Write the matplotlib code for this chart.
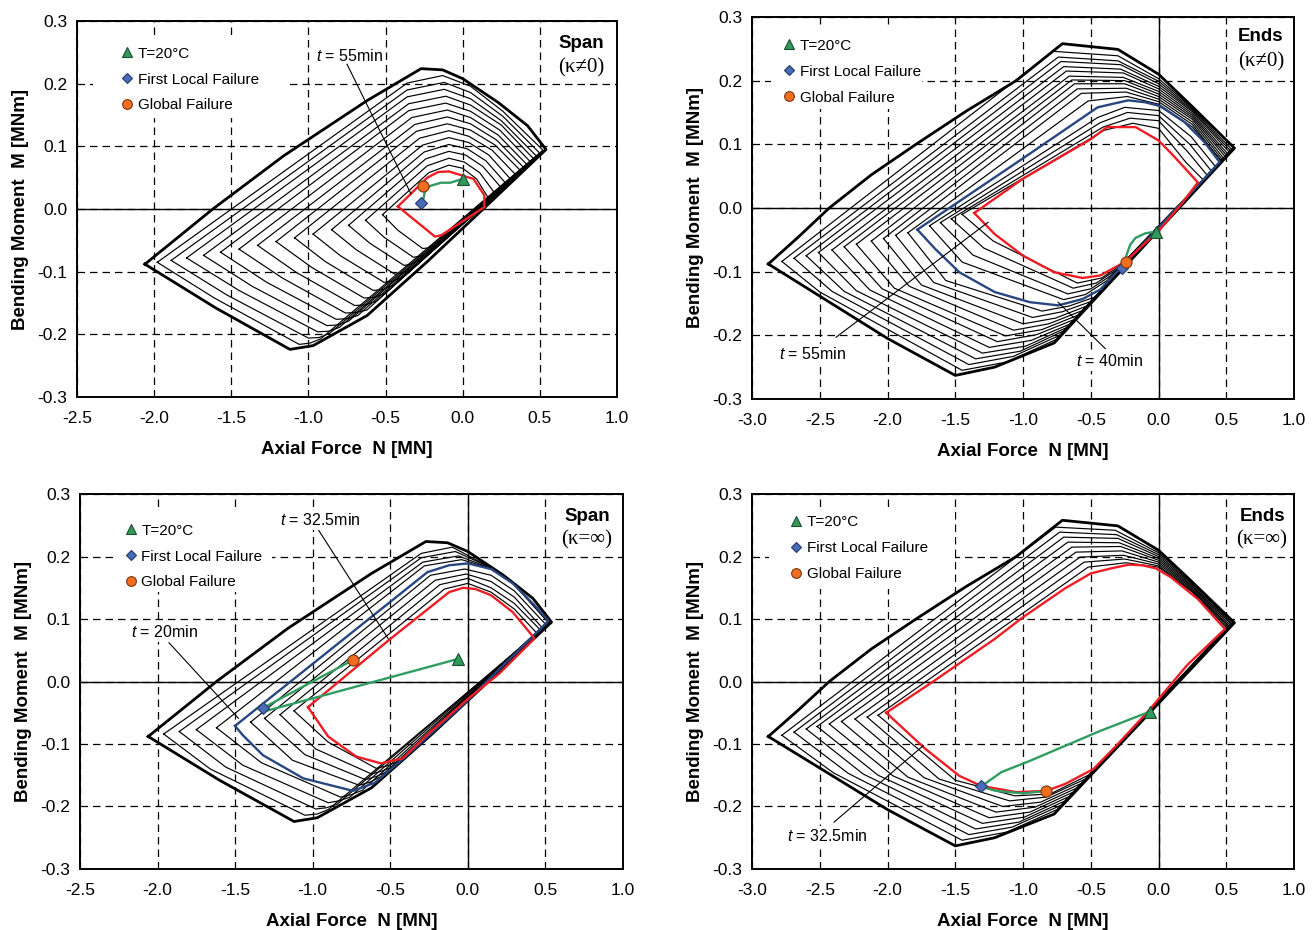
import matplotlib
matplotlib.use("Agg")
import matplotlib.pyplot as plt
from matplotlib.lines import Line2D
from matplotlib.patches import Rectangle
from matplotlib.ticker import MultipleLocator, FuncFormatter
from matplotlib import font_manager

# ---------------- fonts ----------------
names = {f.name for f in font_manager.fontManager.ttflist}
SANS = 'Liberation Sans' if 'Liberation Sans' in names else 'DejaVu Sans'
NARROW = 'Liberation Sans Narrow' if 'Liberation Sans Narrow' in names else SANS
SERIF = 'Liberation Serif' if 'Liberation Serif' in names else 'DejaVu Serif'
plt.rcParams['font.family'] = [SANS, 'DejaVu Sans']
plt.rcParams['axes.unicode_minus'] = False
plt.rcParams['mathtext.fontset'] = 'custom'
plt.rcParams['mathtext.it'] = SANS + ':italic'
plt.rcParams['mathtext.rm'] = SANS

# ---------------- data (N in MN, M in MNm) ----------------
# T = 20 C interaction curves (thick outline)
span_outer_N = [-2.06, -1.62, -1.16, -0.62, -0.27, -0.13, 0.00, 0.23, 0.42, 0.54, 0.15, -0.23, -0.62, -0.97, -1.12, -1.60, -2.06]
span_outer_M = [-0.088, 0.000, 0.085, 0.173, 0.224, 0.222, 0.208, 0.170, 0.133, 0.095, 0.004, -0.084, -0.170, -0.218, -0.224, -0.158, -0.088]
ends_outer_N = [-2.88, -2.66, -2.43, -2.12, -1.79, -1.42, -1.05, -0.71, -0.30, 0.00, 0.24, 0.56, 0.00, -0.77, -1.21, -1.50, -2.00, -2.88]
ends_outer_M = [-0.088, -0.046, 0.000, 0.052, 0.100, 0.152, 0.200, 0.258, 0.249, 0.210, 0.161, 0.094, -0.035, -0.212, -0.250, -0.263, -0.205, -0.088]

# intermediate time steps: one corner point per curve (outer -> inner)
# going round each curve: tip, ul, top, tr1, tr2, r, br, b2, bot, ll
# (a) Span, kappa != 0
a_tip_N = [-1.98, -1.89, -1.79, -1.68, -1.57, -1.45, -1.33, -1.21, -1.09, -0.97, -0.85, -0.74, -0.63, -0.52]
a_tip_M = [-0.085, -0.082, -0.078, -0.074, -0.069, -0.064, -0.058, -0.052, -0.046, -0.040, -0.033, -0.026, -0.018, -0.009]
a_ul_N = [-0.36, -0.36, -0.36, -0.35, -0.35, -0.33, -0.31, -0.30, -0.28, -0.26, -0.25, -0.24, -0.23, -0.22]
a_ul_M = [0.201, 0.190, 0.179, 0.168, 0.157, 0.146, 0.135, 0.124, 0.113, 0.102, 0.091, 0.080, 0.069, 0.058]
a_top_N = [-0.13, -0.12, -0.12, -0.11, -0.11, -0.10, -0.10, -0.10, -0.09, -0.09, -0.09, -0.09, -0.09, -0.09]
a_top_M = [0.213, 0.202, 0.191, 0.180, 0.169, 0.158, 0.147, 0.136, 0.125, 0.114, 0.103, 0.092, 0.081, 0.070]
a_tr1_N = [0.05, 0.05, 0.05, 0.05, 0.05, 0.05, 0.05, 0.05, 0.04, 0.04, 0.03, 0.02, 0.01, 0.00]
a_tr1_M = [0.196, 0.186, 0.176, 0.166, 0.156, 0.146, 0.136, 0.126, 0.116, 0.106, 0.096, 0.086, 0.075, 0.065]
a_tr2_N = [0.26, 0.26, 0.25, 0.25, 0.24, 0.23, 0.22, 0.21, 0.19, 0.17, 0.15, 0.13, 0.11, 0.09]
a_tr2_M = [0.156, 0.148, 0.141, 0.134, 0.126, 0.118, 0.110, 0.102, 0.094, 0.086, 0.077, 0.068, 0.058, 0.048]
a_r_N = [0.52, 0.50, 0.48, 0.46, 0.44, 0.42, 0.40, 0.38, 0.35, 0.32, 0.29, 0.26, 0.22, 0.18]
a_r_M = [0.094, 0.089, 0.084, 0.080, 0.075, 0.070, 0.065, 0.060, 0.053, 0.045, 0.038, 0.031, 0.021, 0.012]
a_br_N = [-0.92, -0.86, -0.80, -0.74, -0.68, -0.62, -0.56, -0.50, -0.44, -0.38, -0.32, -0.27, -0.22, -0.18]
a_br_M = [-0.207, -0.198, -0.189, -0.179, -0.170, -0.161, -0.147, -0.134, -0.120, -0.107, -0.092, -0.080, -0.068, -0.056]
a_b2_N = [-0.99, -0.93, -0.87, -0.81, -0.75, -0.69, -0.63, -0.57, -0.51, -0.45, -0.38, -0.33, -0.27, -0.22]
a_b2_M = [-0.214, -0.205, -0.195, -0.185, -0.175, -0.165, -0.153, -0.141, -0.128, -0.115, -0.101, -0.088, -0.075, -0.062]
a_bot_N = [-1.06, -1.00, -0.94, -0.88, -0.82, -0.76, -0.70, -0.64, -0.58, -0.51, -0.44, -0.38, -0.32, -0.26]
a_bot_M = [-0.216, -0.206, -0.196, -0.186, -0.176, -0.166, -0.154, -0.142, -0.130, -0.117, -0.104, -0.090, -0.077, -0.063]
a_ll_N = [-1.61, -1.53, -1.45, -1.36, -1.27, -1.17, -1.08, -0.98, -0.89, -0.79, -0.69, -0.60, -0.51, -0.42]
a_ll_M = [-0.142, -0.137, -0.130, -0.124, -0.117, -0.110, -0.101, -0.093, -0.084, -0.075, -0.065, -0.055, -0.045, -0.034]
a_red_N = [-0.42, -0.23, -0.16, -0.09, 0.07, 0.14, 0.14, -0.14, -0.18, -0.42]
a_red_M = [0.004, 0.050, 0.059, 0.060, 0.048, 0.022, 0.003, -0.042, -0.044, 0.004]
a_path_N = [0.00, -0.08, -0.14, -0.21, -0.245, -0.255, -0.265]
a_path_M = [0.048, 0.042, 0.042, 0.037, 0.029, 0.016, 0.011]
a_pts_N = [0.00, -0.27, -0.255]      # T=20C, first local failure, global failure
a_pts_M = [0.048, 0.010, 0.036]

# (b) Ends, kappa != 0
b_tip_N = [-2.78, -2.69, -2.60, -2.51, -2.41, -2.32, -2.23, -2.12, -2.03, -1.94, -1.85, -1.69, -1.61, -1.53, -1.45]
b_tip_M = [-0.084, -0.079, -0.075, -0.070, -0.066, -0.061, -0.057, -0.052, -0.048, -0.043, -0.039, -0.028, -0.023, -0.017, -0.010]
b_ul_N = [-0.78, -0.74, -0.72, -0.70, -0.68, -0.66, -0.64, -0.62, -0.60, -0.57, -0.52, -0.45, -0.43, -0.41, -0.40]
b_ul_M = [0.246, 0.237, 0.230, 0.222, 0.215, 0.207, 0.201, 0.195, 0.187, 0.180, 0.168, 0.142, 0.134, 0.127, 0.122]
b_top_N = [-0.30, -0.30, -0.28, -0.28, -0.26, -0.26, -0.25, -0.25, -0.24, -0.24, -0.23, -0.25, -0.23, -0.21, -0.19]
b_top_M = [0.239, 0.231, 0.225, 0.218, 0.212, 0.205, 0.200, 0.195, 0.188, 0.182, 0.175, 0.158, 0.150, 0.141, 0.133]
b_tr1_N = [0.00, 0.00, 0.00, 0.00, 0.00, 0.00, 0.00, 0.00, 0.00, 0.00, 0.00, 0.00, 0.00, 0.00, 0.00]
b_tr1_M = [0.203, 0.199, 0.195, 0.191, 0.187, 0.183, 0.179, 0.175, 0.171, 0.167, 0.163, 0.153, 0.145, 0.137, 0.125]
b_tr2_N = [0.25, 0.25, 0.25, 0.25, 0.25, 0.25, 0.25, 0.25, 0.25, 0.25, 0.25, 0.24, 0.23, 0.22, 0.20]
b_tr2_M = [0.157, 0.155, 0.153, 0.151, 0.148, 0.145, 0.142, 0.139, 0.135, 0.131, 0.127, 0.112, 0.100, 0.087, 0.072]
b_r_N = [0.55, 0.54, 0.53, 0.52, 0.51, 0.50, 0.49, 0.48, 0.47, 0.46, 0.46, 0.42, 0.39, 0.36, 0.33]
b_r_M = [0.095, 0.092, 0.090, 0.088, 0.085, 0.083, 0.081, 0.078, 0.076, 0.074, 0.075, 0.065, 0.058, 0.051, 0.044]
b_br_N = [-0.76, -0.73, -0.70, -0.68, -0.65, -0.62, -0.59, -0.56, -0.53, -0.50, -0.47, -0.38, -0.35, -0.31, -0.28]
b_br_M = [-0.207, -0.200, -0.193, -0.188, -0.182, -0.175, -0.168, -0.161, -0.154, -0.147, -0.140, -0.114, -0.106, -0.097, -0.090]
b_b2_N = [-1.12, -1.07, -1.02, -0.98, -0.94, -0.90, -0.86, -0.81, -0.76, -0.71, -0.66, -0.54, -0.50, -0.46, -0.42]
b_b2_M = [-0.242, -0.233, -0.225, -0.217, -0.208, -0.199, -0.191, -0.182, -0.173, -0.163, -0.154, -0.136, -0.127, -0.118, -0.110]
b_bot_N = [-1.45, -1.40, -1.35, -1.30, -1.25, -1.19, -1.13, -1.07, -1.00, -0.93, -0.86, -0.70, -0.67, -0.63, -0.60]
b_bot_M = [-0.255, -0.246, -0.237, -0.228, -0.219, -0.210, -0.201, -0.192, -0.182, -0.172, -0.162, -0.144, -0.135, -0.126, -0.118]
b_ll_N = [-2.50, -2.41, -2.32, -2.23, -2.13, -2.04, -1.95, -1.84, -1.75, -1.66, -1.57, -1.45, -1.37, -1.29, -1.22]
b_ll_M = [-0.132, -0.131, -0.131, -0.130, -0.129, -0.127, -0.126, -0.123, -0.121, -0.117, -0.114, -0.085, -0.074, -0.063, -0.052]
b_blue_N = [-1.78, -1.00, -0.45, -0.225, -0.10, 0.01, 0.19, 0.34, 0.45, 0.00, -0.43, -0.56, -0.74, -0.95, -1.21, -1.47, -1.65, -1.78]
b_blue_M = [-0.034, 0.078, 0.158, 0.169, 0.166, 0.160, 0.135, 0.103, 0.072, -0.031, -0.128, -0.143, -0.153, -0.148, -0.132, -0.101, -0.064, -0.034]
b_red_N = [-1.36, -1.00, -0.50, -0.38, -0.17, 0.00, 0.11, 0.29, 0.16, 0.00, -0.25, -0.43, -0.56, -0.77, -1.00, -1.21, -1.36]
b_red_M = [-0.008, 0.046, 0.108, 0.127, 0.127, 0.106, 0.082, 0.040, 0.004, -0.036, -0.085, -0.106, -0.110, -0.101, -0.075, -0.041, -0.008]
b_path_N = [-0.02, -0.10, -0.17, -0.21, -0.235, -0.25, -0.27]
b_path_M = [-0.037, -0.040, -0.047, -0.058, -0.073, -0.085, -0.095]
b_pts_N = [-0.018, -0.27, -0.243]
b_pts_M = [-0.037, -0.095, -0.085]

# (c) Span, kappa = inf
c_tip_N = [-1.96, -1.86, -1.75, -1.62, -1.40, -1.31, -1.21, -1.12]
c_tip_M = [-0.084, -0.080, -0.077, -0.074, -0.065, -0.059, -0.053, -0.047]
c_ul_N = [-0.30, -0.30, -0.29, -0.28, -0.24, -0.21, -0.18, -0.15]
c_ul_M = [0.205, 0.198, 0.191, 0.185, 0.170, 0.162, 0.155, 0.148]
c_top_N = [-0.10, -0.08, -0.06, -0.04, -0.02, -0.01, 0.00, 0.00]
c_top_M = [0.215, 0.208, 0.201, 0.195, 0.180, 0.172, 0.165, 0.157]
c_tr1_N = [0.15, 0.15, 0.15, 0.15, 0.15, 0.15, 0.15, 0.15]
c_tr1_M = [0.182, 0.182, 0.181, 0.181, 0.170, 0.160, 0.150, 0.143]
c_tr2_N = [0.30, 0.30, 0.30, 0.30, 0.30, 0.30, 0.30, 0.30]
c_tr2_M = [0.156, 0.156, 0.155, 0.155, 0.145, 0.135, 0.125, 0.116]
c_r_N = [0.53, 0.53, 0.52, 0.52, 0.50, 0.48, 0.47, 0.45]
c_r_M = [0.094, 0.095, 0.094, 0.095, 0.092, 0.086, 0.082, 0.076]
c_br_N = [-0.90, -0.84, -0.76, -0.68, -0.56, -0.52, -0.48, -0.45]
c_br_M = [-0.205, -0.196, -0.185, -0.174, -0.152, -0.144, -0.136, -0.128]
c_b2_N = [-0.97, -0.91, -0.83, -0.75, -0.63, -0.59, -0.55, -0.52]
c_b2_M = [-0.212, -0.202, -0.191, -0.181, -0.161, -0.152, -0.143, -0.135]
c_bot_N = [-1.05, -0.98, -0.90, -0.82, -0.70, -0.66, -0.62, -0.59]
c_bot_M = [-0.214, -0.204, -0.194, -0.185, -0.166, -0.157, -0.148, -0.139]
c_ll_N = [-1.66, -1.56, -1.45, -1.33, -1.13, -1.05, -0.98, -0.90]
c_ll_M = [-0.140, -0.137, -0.134, -0.130, -0.126, -0.117, -0.108, -0.097]
c_blue_N = [-1.50, -0.26, -0.12, 0.00, 0.15, 0.29, 0.43, 0.52, 0.00, -0.40, -0.60, -0.74, -1.06, -1.32, -1.45, -1.50]
c_blue_M = [-0.071, 0.175, 0.186, 0.189, 0.180, 0.157, 0.122, 0.097, -0.030, -0.120, -0.162, -0.175, -0.155, -0.118, -0.086, -0.071]
c_red_N = [-1.03, -0.51, -0.12, -0.03, 0.05, 0.15, 0.29, 0.43, 0.20, 0.00, -0.26, -0.42, -0.56, -0.72, -0.90, -1.03]
c_red_M = [-0.041, 0.066, 0.143, 0.150, 0.148, 0.138, 0.111, 0.069, 0.012, -0.028, -0.085, -0.123, -0.131, -0.120, -0.088, -0.041]
c_path_N = [-0.064, -1.00, -1.30, -1.31, -1.00, -0.743]
c_path_M = [0.036, -0.027, -0.047, -0.041, 0.000, 0.034]
c_pts_N = [-0.064, -1.317, -0.743]
c_pts_M = [0.036, -0.042, 0.034]

# (d) Ends, kappa = inf
d_tip_N = [-2.78, -2.69, -2.60, -2.52, -2.43, -2.34, -2.24, -2.15, -2.07]
d_tip_M = [-0.086, -0.081, -0.076, -0.072, -0.068, -0.064, -0.060, -0.057, -0.054]
d_ul_N = [-0.76, -0.73, -0.70, -0.67, -0.64, -0.61, -0.58, -0.55, -0.52]
d_ul_M = [0.247, 0.239, 0.231, 0.223, 0.215, 0.207, 0.199, 0.191, 0.183]
d_top_N = [-0.32, -0.31, -0.30, -0.29, -0.28, -0.27, -0.26, -0.25, -0.24]
d_top_M = [0.242, 0.235, 0.229, 0.222, 0.216, 0.209, 0.202, 0.196, 0.190]
d_tr1_N = [0.00, 0.00, 0.00, 0.00, 0.00, 0.00, 0.00, 0.00, 0.00]
d_tr1_M = [0.206, 0.203, 0.200, 0.197, 0.194, 0.191, 0.188, 0.185, 0.183]
d_tr2_N = [0.25, 0.25, 0.25, 0.25, 0.25, 0.25, 0.25, 0.25, 0.25]
d_tr2_M = [0.158, 0.156, 0.154, 0.152, 0.150, 0.148, 0.146, 0.144, 0.143]
d_r_N = [0.55, 0.55, 0.54, 0.54, 0.53, 0.52, 0.52, 0.51, 0.50]
d_r_M = [0.094, 0.093, 0.092, 0.091, 0.090, 0.089, 0.088, 0.087, 0.086]
d_br_N = [-0.75, -0.72, -0.69, -0.66, -0.63, -0.60, -0.57, -0.54, -0.51]
d_br_M = [-0.205, -0.198, -0.191, -0.184, -0.177, -0.170, -0.163, -0.156, -0.149]
d_b2_N = [-1.12, -1.08, -1.03, -0.99, -0.95, -0.91, -0.87, -0.83, -0.80]
d_b2_M = [-0.241, -0.233, -0.225, -0.217, -0.209, -0.201, -0.193, -0.185, -0.180]
d_bot_N = [-1.45, -1.40, -1.35, -1.30, -1.25, -1.20, -1.15, -1.10, -1.06]
d_bot_M = [-0.254, -0.245, -0.236, -0.227, -0.218, -0.209, -0.200, -0.191, -0.183]
d_ll_N = [-2.40, -2.29, -2.18, -2.07, -1.96, -1.85, -1.73, -1.62, -1.50]
d_ll_M = [-0.146, -0.147, -0.148, -0.150, -0.151, -0.153, -0.154, -0.156, -0.158]
d_red_N = [-2.01, -1.67, -1.21, -1.00, -0.69, -0.50, -0.35, -0.22, -0.12, -0.02, 0.09, 0.29, 0.49, 0.21, -0.07, -0.30, -0.48, -0.69, -0.83, -1.05, -1.31, -1.47, -1.72, -1.88, -2.01]
d_red_M = [-0.050, -0.001, 0.068, 0.103, 0.149, 0.173, 0.181, 0.187, 0.186, 0.181, 0.167, 0.132, 0.084, 0.026, -0.046, -0.100, -0.140, -0.164, -0.175, -0.177, -0.167, -0.151, -0.108, -0.076, -0.050]
d_path_N = [-0.062, -0.43, -0.69, -0.95, -1.16, -1.31, -1.20, -1.00, -0.83]
d_path_M = [-0.048, -0.079, -0.103, -0.127, -0.145, -0.168, -0.175, -0.179, -0.175]
d_pts_N = [-0.062, -1.31, -0.83]
d_pts_M = [-0.048, -0.168, -0.175]

legend_labels = ['T=20°C', 'First Local Failure', 'Global Failure']

RED = '#ee1d25'
BLUE = '#28467f'
GREEN = '#2f9d62'
MARK_FC = ['#2f9a5a', '#4a6cb8', '#f26d1f']
MARK_EC = ['#1b4d2e', '#233a6a', '#7a3510']
MARKERS = ['^', 'D', 'o']
MSIZE = [8.5, 6.5, 8]


def fmt(v, pos):
    if abs(v) < 1e-9:
        v = 0.0
    return f'{v:.1f}'


def setup(ax, xmin, solid_zero_n):
    ax.set_xlim(xmin, 1.0)
    ax.set_ylim(-0.3, 0.3)
    ax.xaxis.set_major_locator(MultipleLocator(0.5))
    ax.yaxis.set_major_locator(MultipleLocator(0.1))
    ax.xaxis.set_major_formatter(FuncFormatter(fmt))
    ax.yaxis.set_major_formatter(FuncFormatter(fmt))
    ax.grid(True, color='black', lw=0.9, linestyle=(0, (6, 4)))
    ax.set_axisbelow(True)
    ax.axhline(0, color='black', lw=1.0, zorder=1)
    if solid_zero_n:
        ax.axvline(0, color='black', lw=1.0, zorder=1)
    ax.tick_params(length=0, labelsize=12.5)
    ax.tick_params(axis='x', pad=10)
    ax.tick_params(axis='y', pad=7)
    for s in ax.spines.values():
        s.set_linewidth(1.4)
    ax.set_xlabel('Axial Force  N [MN]', fontweight='bold', family=NARROW,
                  fontsize=13.5, labelpad=11)
    ax.set_ylabel('Bending Moment  M [MNm]', fontweight='bold', family=NARROW,
                  fontsize=13.5, labelpad=6)


def draw_family(ax, n_cols, m_cols):
    # closed polyline through the corner points of each curve
    for k in range(len(n_cols[0])):
        ns = [col[k] for col in n_cols]
        ms = [col[k] for col in m_cols]
        ax.plot(ns + ns[:1], ms + ms[:1], color='black', lw=0.85,
                solid_joinstyle='round', zorder=3)


def draw_points(ax, pts_N, pts_M):
    for i in range(3):
        ax.plot(pts_N[i], pts_M[i], marker=MARKERS[i], ms=MSIZE[i],
                mfc=MARK_FC[i], mec=MARK_EC[i], mew=0.8, ls='none', zorder=8)


def add_legend(ax, x, y, box):
    # white legend area hides the grid, as in the original chart
    ax.add_patch(Rectangle(box[:2], box[2], box[3], transform=ax.transAxes,
                           facecolor='white', edgecolor='none', zorder=2))
    handles = [Line2D([], [], marker=MARKERS[i], ls='none', ms=MSIZE[i] - 1,
                      mfc=MARK_FC[i], mec=MARK_EC[i], mew=0.8) for i in range(3)]
    ax.legend(handles, legend_labels, loc='upper left', bbox_to_anchor=(x, y),
              frameon=False, handlelength=0.6, handletextpad=0.4,
              labelspacing=0.78, borderaxespad=0, borderpad=0, fontsize=11)


def add_title(ax, word, kappa, x, y1, y2):
    ax.text(x, y1, word, transform=ax.transAxes, ha='center', va='center',
            fontweight='bold', fontsize=13.5)
    ax.text(x, y2, kappa, transform=ax.transAxes, ha='center', va='center',
            family=[SERIF, 'DejaVu Serif'], fontsize=15)


def add_note(ax, text, txy, line_N, line_M):
    ax.text(txy[0], txy[1], text, ha='left', va='center', fontsize=11.5, zorder=9,
            bbox=dict(facecolor='white', edgecolor='none', pad=1.5))
    ax.plot(line_N, line_M, color='black', lw=0.8, zorder=9)


fig = plt.figure(figsize=(13.15, 9.30), dpi=100)
ax_a = fig.add_axes([0.0586, 0.5731, 0.4106, 0.4043])
ax_b = fig.add_axes([0.5719, 0.5710, 0.4122, 0.4108])
ax_c = fig.add_axes([0.0608, 0.0656, 0.4129, 0.4032])
ax_d = fig.add_axes([0.5719, 0.0656, 0.4122, 0.4032])

# ---- (a) Span kappa != 0
setup(ax_a, -2.5, False)
draw_family(ax_a, [a_tip_N, a_ul_N, a_top_N, a_tr1_N, a_tr2_N, a_r_N, a_br_N, a_b2_N, a_bot_N, a_ll_N],
            [a_tip_M, a_ul_M, a_top_M, a_tr1_M, a_tr2_M, a_r_M, a_br_M, a_b2_M, a_bot_M, a_ll_M])
ax_a.plot(span_outer_N, span_outer_M, color='black', lw=2.0, zorder=4)
ax_a.plot(a_red_N, a_red_M, color=RED, lw=1.7, zorder=5)
ax_a.plot(a_path_N, a_path_M, color=GREEN, lw=1.7, zorder=6)
draw_points(ax_a, a_pts_N, a_pts_M)
add_note(ax_a, '$t$ = 55min', (-0.95, 0.244), [-0.75, -0.335], [0.231, 0.024])
add_legend(ax_a, 0.084, 0.932, (0.029, 0.743, 0.36, 0.22))
add_title(ax_a, 'Span', '(κ≠0)', 0.933, 0.939, 0.875)

# ---- (b) Ends kappa != 0
setup(ax_b, -3.0, True)
draw_family(ax_b, [b_tip_N, b_ul_N, b_top_N, b_tr1_N, b_tr2_N, b_r_N, b_br_N, b_b2_N, b_bot_N, b_ll_N],
            [b_tip_M, b_ul_M, b_top_M, b_tr1_M, b_tr2_M, b_r_M, b_br_M, b_b2_M, b_bot_M, b_ll_M])
ax_b.plot(ends_outer_N, ends_outer_M, color='black', lw=2.0, zorder=4)
ax_b.plot(b_blue_N, b_blue_M, color=BLUE, lw=1.7, zorder=5)
ax_b.plot(b_red_N, b_red_M, color=RED, lw=1.7, zorder=5)
ax_b.plot(b_path_N, b_path_M, color=GREEN, lw=1.7, zorder=6)
draw_points(ax_b, b_pts_N, b_pts_M)
add_note(ax_b, '$t$ = 55min', (-2.80, -0.229), [-2.38, -1.258], [-0.203, -0.0225])
add_note(ax_b, '$t$ = 40min', (-0.61, -0.241), [-0.393, -0.742], [-0.221, -0.148])
add_legend(ax_b, 0.060, 0.943, (0.035, 0.759, 0.278, 0.209))
add_title(ax_b, 'Ends', '(κ≠0)', 0.939, 0.948, 0.882)

# ---- (c) Span kappa = inf
setup(ax_c, -2.5, True)
draw_family(ax_c, [c_tip_N, c_ul_N, c_top_N, c_tr1_N, c_tr2_N, c_r_N, c_br_N, c_b2_N, c_bot_N, c_ll_N],
            [c_tip_M, c_ul_M, c_top_M, c_tr1_M, c_tr2_M, c_r_M, c_br_M, c_b2_M, c_bot_M, c_ll_M])
ax_c.plot(span_outer_N, span_outer_M, color='black', lw=2.0, zorder=4)
ax_c.plot(c_blue_N, c_blue_M, color=BLUE, lw=1.7, zorder=5)
ax_c.plot(c_red_N, c_red_M, color=RED, lw=1.7, zorder=5)
ax_c.plot(c_path_N, c_path_M, color=GREEN, lw=1.7, zorder=6)
draw_points(ax_c, c_pts_N, c_pts_M)
add_note(ax_c, '$t$ = 32.5min', (-1.21, 0.259), [-0.96, -0.513], [0.2415, 0.0686])
add_note(ax_c, '$t$ = 20min', (-2.17, 0.079), [-1.926, -1.478], [0.062, -0.059])
add_legend(ax_c, 0.085, 0.921, (0.063, 0.738, 0.291, 0.213))
add_title(ax_c, 'Span', '(κ=∞)', 0.934, 0.941, 0.877)

# ---- (d) Ends kappa = inf
setup(ax_d, -3.0, True)
draw_family(ax_d, [d_tip_N, d_ul_N, d_top_N, d_tr1_N, d_tr2_N, d_r_N, d_br_N, d_b2_N, d_bot_N, d_ll_N],
            [d_tip_M, d_ul_M, d_top_M, d_tr1_M, d_tr2_M, d_r_M, d_br_M, d_b2_M, d_bot_M, d_ll_M])
ax_d.plot(ends_outer_N, ends_outer_M, color='black', lw=2.0, zorder=4)
ax_d.plot(d_red_N, d_red_M, color=RED, lw=1.7, zorder=5)
ax_d.plot(d_path_N, d_path_M, color=GREEN, lw=1.7, zorder=6)
draw_points(ax_d, d_pts_N, d_pts_M)
add_note(ax_d, '$t$ = 32.5min', (-2.744, -0.247), [-2.395, -1.736], [-0.225, -0.1026])
add_legend(ax_d, 0.073, 0.943, (0.032, 0.7475, 0.342, 0.2175))
add_title(ax_d, 'Ends', '(κ=∞)', 0.941, 0.941, 0.877)

fig.savefig('out.png', dpi=100, facecolor='white')
